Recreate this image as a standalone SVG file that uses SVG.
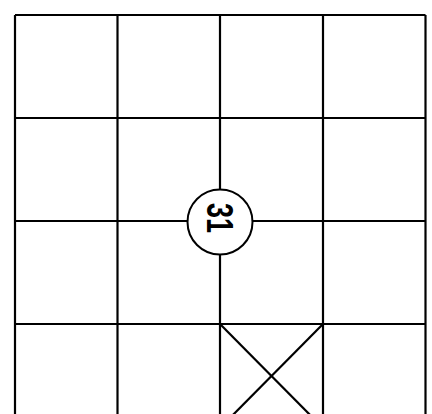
<svg xmlns="http://www.w3.org/2000/svg" width="432" height="414" viewBox="0 0 432 414">
<style>
.ln{stroke:#000;stroke-width:2.2;fill:none}
.lbl{font-family:"Liberation Sans",Arial,sans-serif;font-size:36px;font-weight:bold;fill:#000}
</style>
<rect width="432" height="414" fill="#fff"/>
<g id="connectors" class="ln">
<line x1="15" y1="15" x2="15" y2="414"/>
<line x1="117.5" y1="15" x2="117.5" y2="414"/>
<line x1="220" y1="15" x2="220" y2="414"/>
<line x1="323" y1="15" x2="323" y2="414"/>
<line x1="425.5" y1="15" x2="425.5" y2="414"/>
<line x1="15" y1="15" x2="425.5" y2="15"/>
<line x1="15" y1="118" x2="425.5" y2="118"/>
<line x1="15" y1="221" x2="425.5" y2="221"/>
<line x1="15" y1="324" x2="425.5" y2="324"/>
<line x1="220" y1="324" x2="323" y2="428"/>
<line x1="323" y1="324" x2="220" y2="428"/>
</g>
<g id="node31">
<circle cx="220" cy="222" r="32.5" fill="#fff" stroke="#000" stroke-width="2"/>
<text class="lbl" transform="translate(207,218) rotate(90)" text-anchor="middle" textLength="30" lengthAdjust="spacingAndGlyphs" x="0" y="0">31</text>
</g>
</svg>
